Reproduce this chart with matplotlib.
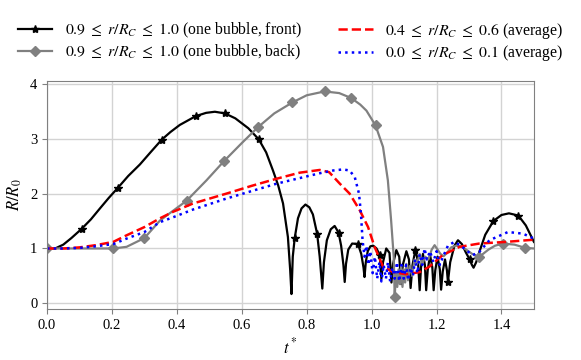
import numpy as np
import matplotlib
matplotlib.use("Agg")
import matplotlib.pyplot as plt

matplotlib.rcParams.update({
    'font.family': ['Liberation Serif', 'DejaVu Serif'],
    'mathtext.fontset': 'stix',
    'font.size': 10.5,
})

# one bubble, front (black, stars)
t_front = [0.0, 0.025, 0.05, 0.075, 0.107, 0.135, 0.163, 0.19, 0.219, 0.25, 0.286, 0.32,
           0.353, 0.38, 0.409, 0.458, 0.49, 0.517, 0.548, 0.58, 0.62, 0.652, 0.675, 0.696,
           0.712, 0.727, 0.742, 0.749, 0.753, 0.757, 0.763, 0.773, 0.784, 0.796, 0.808,
           0.819, 0.832, 0.84, 0.848, 0.853, 0.862, 0.874, 0.886, 0.898, 0.906, 0.913,
           0.917, 0.921, 0.928, 0.94, 0.958, 0.968, 0.975, 0.978, 0.982, 0.988, 0.996,
           1.005, 1.015, 1.025, 1.030, 1.035, 1.045, 1.055, 1.061, 1.066, 1.076, 1.085,
           1.091, 1.096, 1.107, 1.115, 1.120, 1.126, 1.135, 1.143, 1.148, 1.152, 1.158,
           1.164, 1.168, 1.173, 1.180, 1.187, 1.191, 1.196, 1.203, 1.210, 1.214, 1.219,
           1.226, 1.232, 1.235, 1.242, 1.255, 1.266, 1.278, 1.29, 1.302, 1.309, 1.314,
           1.322, 1.332, 1.35, 1.375, 1.40, 1.423, 1.452, 1.475, 1.5]
r_front = [0.99, 1.0, 1.07, 1.19, 1.36, 1.53, 1.73, 1.92, 2.11, 2.32, 2.53, 2.76,
           2.98, 3.12, 3.25, 3.41, 3.47, 3.49, 3.46, 3.37, 3.19, 2.99, 2.75, 2.42,
           2.15, 1.82, 1.21, 0.61, 0.17, 0.85, 1.19, 1.55, 1.73, 1.80, 1.75,
           1.62, 1.27, 0.85, 0.27, 0.75, 1.15, 1.35, 1.41, 1.29, 1.05, 0.70,
           0.39, 0.72, 0.98, 1.09, 1.08, 0.90, 0.65, 0.48, 0.75, 0.95, 1.04,
           1.05, 1.0, 0.88, 0.45, 0.75, 1.0, 0.92, 0.38, 0.72, 0.97, 0.85,
           0.35, 0.70, 0.95, 0.80, 0.28, 0.70, 0.98, 0.75, 0.24, 0.65, 0.90,
           0.70, 0.24, 0.62, 0.88, 0.65, 0.24, 0.60, 0.85, 0.62, 0.25, 0.58,
           0.80, 0.60, 0.39, 0.75, 1.05, 1.15, 1.08, 0.93, 0.80, 0.70, 0.65,
           0.75, 0.94, 1.25, 1.50, 1.61, 1.64, 1.60, 1.42, 1.12]
front_marks = [0.107, 0.219, 0.353, 0.458, 0.548, 0.652, 0.763, 0.832, 0.898, 0.958,
               1.025, 1.135, 1.235, 1.302, 1.375, 1.452]

# one bubble, back (gray, diamonds)
t_back = [0.0, 0.1, 0.204, 0.245, 0.30, 0.348, 0.43, 0.491, 0.545, 0.60, 0.65, 0.70,
          0.756, 0.80, 0.855, 0.90, 0.937, 0.965, 0.984, 1.012, 1.035, 1.05, 1.06, 1.068,
          1.071, 1.075, 1.079, 1.083, 1.087, 1.091, 1.095, 1.099, 1.103, 1.107, 1.112,
          1.118, 1.125, 1.132, 1.14, 1.148, 1.156, 1.165, 1.175, 1.185, 1.194, 1.203,
          1.212, 1.222, 1.232, 1.245, 1.26, 1.275, 1.291, 1.31, 1.332, 1.36, 1.38, 1.404,
          1.44, 1.474, 1.5]
r_back = [1.0, 1.0, 1.0, 1.03, 1.19, 1.51, 1.87, 2.24, 2.59, 2.92, 3.21, 3.46,
          3.66, 3.79, 3.86, 3.83, 3.74, 3.62, 3.51, 3.24, 2.85, 2.24, 1.51, 0.85,
          0.12, 0.55, 0.30, 0.62, 0.35, 0.68, 0.30, 0.62, 0.38, 0.72, 0.42,
          0.68, 0.50, 0.80, 0.72, 0.90, 0.72, 0.85, 0.80, 0.98, 1.06, 0.98,
          0.90, 0.86, 0.92, 1.02, 1.05, 1.04, 0.98, 0.90, 0.85, 0.98, 1.05, 1.09,
          1.07, 1.01, 1.0]
back_marks = [0.0, 0.204, 0.30, 0.43, 0.545, 0.65, 0.756, 0.855, 0.937, 1.012, 1.071,
              1.332, 1.404, 1.474]

# 0.4 <= r/Rc <= 0.6 average (red dashed)
t_mid = [0.0, 0.05, 0.1, 0.15, 0.204, 0.245, 0.30, 0.348, 0.389, 0.45, 0.553, 0.63,
         0.707, 0.778, 0.84, 0.869, 0.902, 0.932, 0.963, 0.989, 1.009, 1.035, 1.066,
         1.107, 1.148, 1.178, 1.219, 1.271, 1.332, 1.414, 1.5]
r_mid = [1.0, 1.0, 1.02, 1.06, 1.12, 1.24, 1.39, 1.55, 1.67, 1.82, 2.0, 2.14,
         2.27, 2.38, 2.43, 2.39, 2.18, 2.0, 1.70, 1.39, 1.03, 0.67, 0.57,
         0.53, 0.57, 0.67, 0.88, 1.03, 1.09, 1.12, 1.16]

# 0.0 <= r/Rc <= 0.1 average (blue dotted)
t_core = [0.0, 0.05, 0.1, 0.15, 0.204, 0.245, 0.30, 0.348, 0.389, 0.45, 0.553, 0.707,
          0.84, 0.881, 0.912, 0.932, 0.948, 0.961, 0.967, 0.972, 0.978, 0.984, 0.990,
          0.996, 1.003, 1.010, 1.017, 1.024, 1.030, 1.037, 1.044, 1.050, 1.057, 1.064,
          1.071, 1.078, 1.085, 1.092, 1.099, 1.106, 1.113, 1.120, 1.127, 1.134, 1.141,
          1.148, 1.156, 1.163, 1.170, 1.180, 1.190, 1.200, 1.210, 1.220, 1.235, 1.255,
          1.275, 1.295, 1.312, 1.332, 1.363, 1.42, 1.466, 1.5]
r_core = [1.0, 1.0, 1.01, 1.04, 1.08, 1.18, 1.30, 1.48, 1.57, 1.71, 1.91, 2.18,
          2.37, 2.42, 2.44, 2.42, 2.30, 2.0, 1.64, 1.15, 0.85, 1.05, 0.70,
          0.95, 0.55, 0.85, 0.45, 0.75, 0.40, 0.70, 0.45, 0.75, 0.40, 0.65,
          0.45, 0.75, 0.40, 0.70, 0.45, 0.70, 0.42, 0.65, 0.50, 0.80, 0.55,
          0.90, 0.70, 1.0, 0.80, 0.95, 0.75, 0.95, 0.70, 0.85, 1.05, 1.12,
          1.05, 0.95, 0.88, 0.94, 1.15, 1.30, 1.27, 1.18]

labels = [r'$0.9\ \leq\ r/R_C\ \leq\ 1.0$ (one bubble, front)',
          r'$0.9\ \leq\ r/R_C\ \leq\ 1.0$ (one bubble, back)',
          r'$0.4\ \leq\ r/R_C\ \leq\ 0.6$ (average)',
          r'$0.0\ \leq\ r/R_C\ \leq\ 0.1$ (average)']

fig = plt.figure(figsize=(5.81, 3.6), dpi=100)
ax = fig.add_axes([0.081, 0.142, 0.838, 0.633])

t_front = np.array(t_front)
t_back = np.array(t_back)
front_idx = [int(np.argmin(abs(t_front - m))) for m in front_marks]
back_idx = [int(np.argmin(abs(t_back - m))) for m in back_marks]

ax.plot(t_front, r_front, color='black', lw=1.6, marker='*', ms=6,
        markevery=front_idx, label=labels[0])
ax.plot(t_back, r_back, color='gray', lw=1.6, marker='D', ms=5.5,
        markevery=back_idx, label=labels[1])
ax.plot(t_mid, r_mid, color='red', lw=1.8, ls='--', label=labels[2])
ax.plot(t_core, r_core, color='blue', lw=1.8, ls=':', label=labels[3])

ax.set_xlim(0, 1.5)
ax.set_ylim(-0.1, 4.05)
ax.set_xticks([0.0, 0.2, 0.4, 0.6, 0.8, 1.0, 1.2, 1.4])
ax.set_yticks([0, 1, 2, 3, 4])
ax.set_xlabel(r'$t^*$', fontsize=12)
ax.set_ylabel(r'$R/R_0$', fontsize=12)
ax.set_axisbelow(True)
ax.grid(True, color='#d3d3d3', lw=1)
for s in ax.spines.values():
    s.set_color('#808080')
ax.tick_params(color='#808080', length=3.5)

ax.legend(loc='lower center', bbox_to_anchor=(0.5, 1.03), ncol=2, frameon=False,
          fontsize=11.3, handlelength=2.2, columnspacing=2.3, borderaxespad=0.3,
          labelspacing=0.15)

fig.savefig('out.png', dpi=100)
